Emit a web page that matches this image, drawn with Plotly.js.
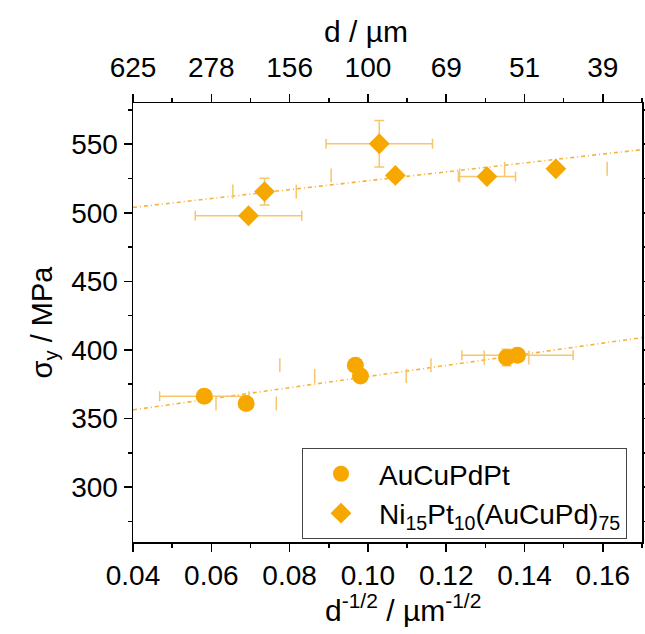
<!DOCTYPE html>
<html><head><meta charset="utf-8">
<script src="https://cdn.plot.ly/plotly-3.0.1.min.js"></script>
<style>html,body{margin:0;padding:0;background:#fff}#chart{width:645px;height:634px}</style>
</head><body><div id="chart"></div>
<script>
// AuCuPdPt
const auX    = [0.0582, 0.0689, 0.0968, 0.0981, 0.1354, 0.1382];
const auY    = [366.3, 361.0, 388.8, 381.0, 394.5, 396.1];
const auXErr = [0.0114, 0.0077, 0.0193, 0.0117, 0.0057, 0.0142];
const auYErr = [2, 2, 2, 2, 6, 4];
const auCapOnly = [false, true, true, true, true, false];
// Ni15Pt10(AuCuPd)75
const niX    = [0.0695, 0.0736, 0.1029, 0.1070, 0.1304, 0.1480];
const niY    = [497.8, 515.4, 550.3, 527.2, 526.4, 532.0];
const niXErr = [0.0136, 0.0081, 0.0136, 0.0164, 0.0073, 0.0131];
const niYErr = [3, 9.8, 17, 3, 3, 3];
const niCapOnly = [false, true, false, true, false, true];
// linear fits
const fitX     = [0.04, 0.17];
const fitAuY   = [356.3, 409.0];
const fitNiY   = [503.9, 546.0];
// axis ticks
const bottomTicks = [0.04, 0.06, 0.08, 0.10, 0.12, 0.14, 0.16];
const topTickText = ['625', '278', '156', '100', '69', '51', '39'];
const yTicks = [300, 350, 400, 450, 500, 550];

const ORANGE = '#F6A800';
const LIGHT = '#F9C56A';
const FITC = '#F6B23A';
const FONT = 'Liberation Sans, Arial, sans-serif';

function barArr(err, capOnly){ return err.map((e,i)=> capOnly[i] ? 0 : e); }
function caps(x, y, err, capOnly){
  const cx=[], cy=[];
  x.forEach((v,i)=>{ if(capOnly[i]){ cx.push(v-err[i], v+err[i]); cy.push(y[i], y[i]); } });
  return {cx, cy};
}
const auC = caps(auX, auY, auXErr, auCapOnly);
const niC = caps(niX, niY, niXErr, niCapOnly);

const traces = [
  {x: fitX, y: fitAuY, mode:'lines', line:{color:FITC, width:1.6, dash:'4px,3px,1px,3px'}, showlegend:false, hoverinfo:'skip'},
  {x: fitX, y: fitNiY, mode:'lines', line:{color:FITC, width:1.6, dash:'4px,3px,1px,3px'}, showlegend:false, hoverinfo:'skip'},
  {x: auC.cx.concat(niC.cx), y: auC.cy.concat(niC.cy), mode:'markers',
   marker:{symbol:'line-ns', size:10, line:{color:LIGHT, width:1.5}}, showlegend:false, hoverinfo:'skip'},
  {x: auX, y: auY, name:'AuCuPdPt', mode:'markers', type:'scatter',
   marker:{symbol:'circle', size:17, color:ORANGE},
   error_x:{type:'data', array:barArr(auXErr, auCapOnly), color:LIGHT, thickness:1.5, width:5},
   error_y:{type:'data', array:auYErr, color:LIGHT, thickness:1.5, width:5}},
  {x: niX, y: niY, name:'Ni<sub>15</sub>Pt<sub>10</sub>(AuCuPd)<sub>75</sub>', mode:'markers', type:'scatter',
   marker:{symbol:'diamond', size:16, color:ORANGE},
   error_x:{type:'data', array:barArr(niXErr, niCapOnly), color:LIGHT, thickness:1.5, width:5},
   error_y:{type:'data', array:niYErr, color:LIGHT, thickness:1.5, width:5}},
  {x: [0.04, 0.17], y: [null, null], xaxis:'x2', mode:'markers', showlegend:false, hoverinfo:'skip'}
];

const tickStyle = {ticks:'outside', ticklen:8, tickwidth:1.5, tickcolor:'#000',
  showline:true, linecolor:'#000', linewidth:1.5, showgrid:false, zeroline:false};

const layout = {
  width:645, height:634,
  margin:{l:133, r:3, t:103, b:92, pad:0},
  paper_bgcolor:'#fff', plot_bgcolor:'#fff',
  font:{family:FONT, size:28, color:'#000'},
  showlegend:true,
  legend:{x:0.332, y:0.214, xanchor:'left', yanchor:'top', bordercolor:'#444', borderwidth:1,
          bgcolor:'rgba(255,255,255,0)', font:{size:28, family:FONT}, itemwidth:66, tracegroupgap:0},
  xaxis:Object.assign({range:[0.04, 0.17], tickmode:'array', tickvals:bottomTicks, tickformat:'.2f',
         minor:{tickmode:'linear', tick0:0.03, dtick:0.02, ticks:'outside', ticklen:4, tickwidth:1.5, tickcolor:'#000'}}, tickStyle),
  xaxis2:Object.assign({overlaying:'x', side:'top', range:[0.04, 0.17], tickmode:'array', tickvals:bottomTicks, ticktext:topTickText,
          ticklabelstandoff:5,
          minor:{tickmode:'linear', tick0:0.03, dtick:0.02, ticks:'outside', ticklen:4, tickwidth:1.5, tickcolor:'#000'}}, tickStyle),
  yaxis:Object.assign({range:[260, 580], tickmode:'array', tickvals:yTicks, mirror:'ticks',
         minor:{tickmode:'linear', tick0:275, dtick:50, ticks:'outside', ticklen:4, tickwidth:1.5, tickcolor:'#000'},
         title:{text:'σ<sub>y</sub> / MPa', font:{size:29, family:FONT}, standoff:10}}, tickStyle),
  annotations:[
    {text:'d / µm', xref:'paper', yref:'paper', x:0.458, y:1.164, xanchor:'center', yanchor:'middle',
     showarrow:false, font:{size:30, family:FONT}},
    {text:'d<sup>-1/2</sup> / µm<sup>-1/2</sup>', xref:'paper', yref:'paper', x:0.53, y:-0.150, xanchor:'center', yanchor:'middle',
     showarrow:false, font:{size:30, family:FONT}}
  ]
};

Plotly.newPlot('chart', traces, layout, {displayModeBar:false, staticPlot:true});
</script>
</body></html>
